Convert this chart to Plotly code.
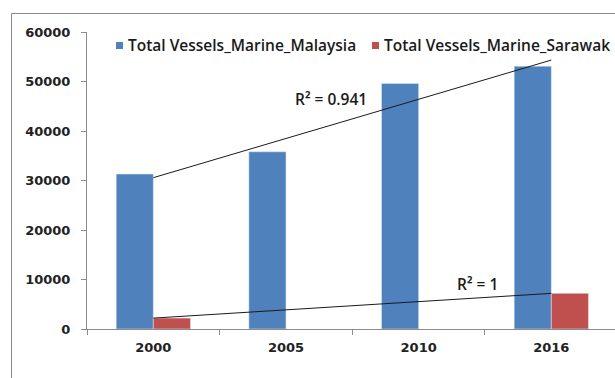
import numpy as np
import plotly.graph_objects as go

# Data
years = ["2000", "2005", "2010", "2016"]
malaysia_name = "Total Vessels_Marine_Malaysia"
sarawak_name = "Total Vessels_Marine_Sarawak"
malaysia = [31300, 35800, 49600, 53100]
sarawak = [2200, None, None, 7200]
r2_labels = ["R\u00b2 = 0.941", "R\u00b2 = 1"]
y_ticks = [0, 10000, 20000, 30000, 40000, 50000, 60000]

BLUE = "#4F81BD"
RED = "#C0504D"

W, H = 615, 378
# plot area in page pixels
PL, PR, PT, PB = 87, 615, 32, 329


def fx(p):
    return p / W


def fy(p):
    return (H - p) / H


def linear_trend(values):
    idx = np.array([i for i, v in enumerate(values) if v is not None], float)
    val = np.array([v for v in values if v is not None], float)
    slope, icpt = np.polyfit(idx, val, 1)
    return [years[int(idx[0])], years[int(idx[-1])]], [icpt + slope * idx[0], icpt + slope * idx[-1]]


fig = go.Figure()

# page-sized overlay axes carrying the chart frame (top and left edges only)
fig.add_scatter(x=[11.5, 11.5, W + 20], y=[H + 20, 13.5, 13.5], xaxis="x2", yaxis="y2",
                mode="lines", line=dict(color="#8a8a8a", width=1),
                showlegend=False, hoverinfo="skip", cliponaxis=True)

fig.add_bar(x=years, y=malaysia, name=malaysia_name, marker_color=BLUE, showlegend=False)
fig.add_bar(x=years, y=sarawak, name=sarawak_name, marker_color=RED, showlegend=False)

for series in (malaysia, sarawak):
    tx, ty = linear_trend(series)
    fig.add_scatter(x=tx, y=ty, mode="lines", line=dict(color="#1a1a1a", width=1),
                    showlegend=False, hoverinfo="skip")

tick_font = dict(family="DejaVu Sans", size=13, color="#222222", weight="bold")
text_font = dict(family="Open Sans", size=15.5, color="#1a1a1a", weight=600)

fig.update_layout(
    width=W, height=H,
    margin=dict(l=0, r=0, t=0, b=0),
    paper_bgcolor="white", plot_bgcolor="rgba(0,0,0,0)",
    barmode="group", bargap=0.44, bargroupgap=0,
    xaxis=dict(type="category", range=[-0.5, 3.48], domain=[fx(PL), fx(PR)],
               showgrid=False, automargin=False,
               showline=True, linecolor="#8c8c8c", linewidth=1,
               ticks="outside", ticklen=5, tickcolor="#8c8c8c", tickson="boundaries",
               tickfont=tick_font, ticklabelstandoff=6),
    yaxis=dict(range=[0, 60000], domain=[fy(PB), fy(PT)], tickvals=y_ticks, tickformat="d",
               showgrid=False, zeroline=False, automargin=False,
               showline=True, linecolor="#8c8c8c", linewidth=1,
               ticks="outside", ticklen=5, tickcolor="#8c8c8c",
               tickfont=tick_font, ticklabelstandoff=8),
    xaxis2=dict(domain=[0, 1], range=[0, W], visible=False, anchor="y2", fixedrange=True),
    yaxis2=dict(domain=[0, 1], range=[H, 0], visible=False, anchor="x2", fixedrange=True),
)

# legend
legend_items = [(malaysia_name, BLUE, 116), (sarawak_name, RED, 372)]
for name, color, x0 in legend_items:
    fig.add_shape(type="rect", xref="paper", yref="paper",
                  x0=fx(x0), x1=fx(x0 + 7), y0=fy(49), y1=fy(42),
                  line=dict(width=0), fillcolor=color)
    fig.add_annotation(text=name, xref="paper", yref="paper", x=fx(x0 + 10), y=fy(45.5),
                       xanchor="left", yanchor="middle", showarrow=False, font=text_font)

# R-squared labels
for label, (cx, cy) in zip(r2_labels, [(331, 99), (477, 284)]):
    fig.add_annotation(text=label, xref="paper", yref="paper", x=fx(cx), y=fy(cy),
                       xanchor="center", yanchor="middle", showarrow=False, font=text_font)

fig.write_html("out.html", config={"displayModeBar": False})
